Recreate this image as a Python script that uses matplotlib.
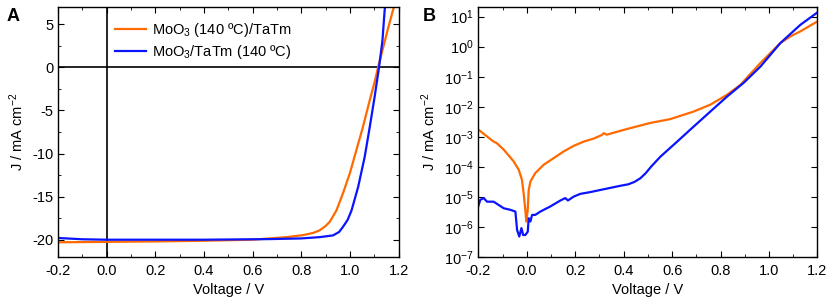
import numpy as np
import matplotlib.pyplot as plt

plt.rcParams['font.family'] = ['Liberation Sans', 'DejaVu Sans']
plt.rcParams['font.size'] = 10.5
plt.rcParams['axes.unicode_minus'] = False
plt.rcParams['mathtext.fontset'] = 'custom'
plt.rcParams['mathtext.rm'] = 'Liberation Sans'
plt.rcParams['mathtext.default'] = 'regular'

orange = '#ff6a00'
blue = '#0a14ff'

# panel A: J-V under illumination
va_orange = [-0.2, 0.0, 0.2, 0.4, 0.6, 0.67, 0.74, 0.807, 0.85, 0.876, 0.9, 0.917, 0.944,
             0.971, 0.999, 1.026, 1.053, 1.081, 1.101, 1.115, 1.135, 1.156, 1.176, 1.19]
ja_orange = [-20.3, -20.25, -20.2, -20.12, -20.0, -19.85, -19.7, -19.47, -19.2, -18.9, -18.4,
             -17.9, -16.6, -14.6, -12.3, -9.6, -6.9, -3.8, -1.7, 0.0, 2.2, 4.5, 6.6, 8.0]
va_blue = [-0.2, -0.1, 0.0, 0.2, 0.4, 0.6, 0.67, 0.8, 0.876, 0.93, 0.955, 0.971, 0.99, 1.006,
           1.033, 1.06, 1.081, 1.101, 1.119, 1.133, 1.142, 1.15]
ja_blue = [-19.8, -19.95, -20.0, -20.0, -20.0, -19.95, -19.93, -19.85, -19.7, -19.5, -19.1,
           -18.5, -17.7, -16.6, -13.9, -10.4, -6.9, -3.4, 0.0, 3.1, 6.6, 8.5]

# panel B: dark J-V (log scale)
vb_orange = [-0.203, -0.164, -0.137, -0.124, -0.095, -0.054, -0.033, -0.02, -0.013, -0.006, -0.002,
             0.004, 0.008, 0.015, 0.035, 0.07, 0.111, 0.152, 0.194, 0.235, 0.276, 0.31, 0.318,
             0.33, 0.414, 0.51, 0.593, 0.689, 0.758, 0.827, 0.882, 0.965, 1.047, 1.09, 1.13,
             1.17, 1.2]
logjb_orange = [-2.74, -2.99, -3.16, -3.21, -3.43, -3.82, -4.1, -4.43, -4.88, -5.43, -5.82,
                -5.43, -4.77, -4.49, -4.21, -3.93, -3.71, -3.49, -3.3, -3.16, -3.06, -2.94, -2.88,
                -2.93, -2.74, -2.54, -2.41, -2.16, -1.93, -1.6, -1.27, -0.54, 0.12, 0.35, 0.51,
                0.7, 0.84]
vb_blue = [-0.203, -0.192, -0.178, -0.164, -0.137, -0.116, -0.095, -0.068, -0.047, -0.04, -0.031,
           -0.022, -0.015, -0.006, 0.004, 0.008, 0.015, 0.022, 0.035, 0.056, 0.097, 0.139, 0.159,
           0.17, 0.194, 0.221, 0.263, 0.304, 0.387, 0.42, 0.445, 0.469, 0.49, 0.515, 0.552,
           0.621, 0.689, 0.758, 0.827, 0.896, 0.965, 1.047, 1.13, 1.2]
logjb_blue = [-5.38, -5.1, -5.04, -5.16, -5.16, -5.27, -5.38, -5.43, -5.49, -6.1, -6.32,
              -6.04, -6.27, -6.27, -6.16, -5.71, -5.82, -5.6, -5.6, -5.49, -5.32, -5.12, -5.04,
              -5.12, -4.99, -4.9, -4.84, -4.77, -4.63, -4.58, -4.5, -4.38, -4.22, -3.98, -3.66,
              -3.16, -2.66, -2.16, -1.66, -1.2, -0.66, 0.12, 0.73, 1.14]

labels = ['MoO$_3$ (140 ºC)/TaTm', 'MoO$_3$/TaTm (140 ºC)']

fig = plt.figure(figsize=(8.29, 3.03), dpi=100)
ax1 = fig.add_axes([0.070, 0.152, 0.411, 0.825])
ax2 = fig.add_axes([0.577, 0.152, 0.409, 0.825])

ax1.axhline(0, color='black', lw=1.2, zorder=1)
ax1.axvline(0, color='black', lw=1.2, zorder=1)
ax1.plot(va_orange, ja_orange, color=orange, lw=1.6, label=labels[0])
ax1.plot(va_blue, ja_blue, color=blue, lw=1.6, label=labels[1])
ax1.set_xlim(-0.2, 1.2)
ax1.set_ylim(-22, 7)
ax1.set_xticks(np.arange(-0.2, 1.21, 0.2))
ax1.set_xticks(np.arange(-0.2, 1.21, 0.1), minor=True)
ax1.set_yticks([-20, -15, -10, -5, 0, 5])
ax1.set_yticks(np.arange(-20, 7, 2.5), minor=True)
ax1.xaxis.set_major_formatter(plt.FormatStrFormatter('%.1f'))
ax1.set_xlabel('Voltage / V')
ax1.set_ylabel('J / mA cm$^{-2}$')
ax1.legend(loc='upper left', bbox_to_anchor=(0.138, 0.984), frameon=False, handlelength=2.1,
           handletextpad=0.45, fontsize=10.5, borderaxespad=0.3, labelspacing=0.25)

ax2.semilogy(vb_orange, 10 ** np.array(logjb_orange), color=orange, lw=1.6)
ax2.semilogy(vb_blue, 10 ** np.array(logjb_blue), color=blue, lw=1.6)
ax2.set_xlim(-0.2, 1.2)
ax2.set_ylim(1e-7, 21)
ax2.set_xticks(np.arange(-0.2, 1.21, 0.2))
ax2.set_xticks(np.arange(-0.2, 1.21, 0.1), minor=True)
ax2.set_yticks([10.0 ** k for k in range(-7, 2)])
ax2.xaxis.set_major_formatter(plt.FormatStrFormatter('%.1f'))
ax2.set_xlabel('Voltage / V')
ax2.set_ylabel('J / mA cm$^{-2}$')

for ax in (ax1, ax2):
    ax.tick_params(which='both', direction='in', top=True, right=True, labelsize=10.5)
    ax.tick_params(which='major', length=4)
    ax.tick_params(which='minor', length=2)
    ax.tick_params(axis='x', which='major', pad=5)
    for s in ax.spines.values():
        s.set_linewidth(1.0)

fig.text(0.008, 0.93, 'A', fontsize=13, fontweight='bold')
fig.text(0.510, 0.93, 'B', fontsize=13, fontweight='bold')

fig.savefig('out.png', dpi=100)
